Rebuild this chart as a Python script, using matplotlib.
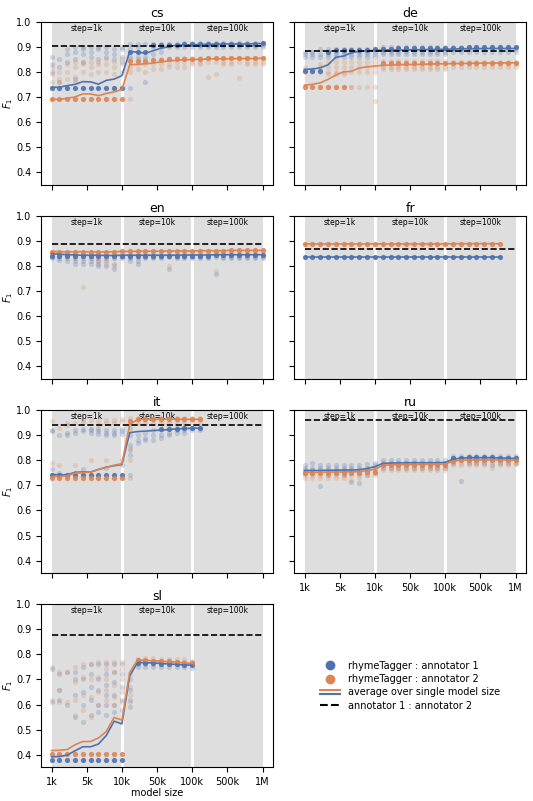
import numpy as np
import matplotlib
matplotlib.use("Agg")
from matplotlib import pyplot as plt
from matplotlib.lines import Line2D
from matplotlib.legend_handler import HandlerBase

C1 = '#4c72b0'  # rhymeTagger : annotator 1
C2 = '#dd8452'  # rhymeTagger : annotator 2

# model sizes: 1k..10k step 1k, 20k..100k step 10k, 200k..1M step 100k
sizes = [1000, 2000, 3000, 4000, 5000, 6000, 7000, 8000, 9000, 10000,
         20000, 30000, 40000, 50000, 60000, 70000, 80000, 90000, 100000,
         200000, 300000, 400000, 500000, 600000, 700000, 800000, 900000, 1000000]
tick_labels = ['1k', '5k', '10k', '50k', '100k', '500k', '1M']
step_labels = ['step=1k', 'step=10k', 'step=100k']
langs = ['cs', 'de', 'en', 'fr', 'it', 'ru', 'sl']

# annotator 1 : annotator 2 agreement
inter_annot = {'cs': 0.904, 'de': 0.884, 'en': 0.887, 'fr': 0.867,
               'it': 0.940, 'ru': 0.960, 'sl': 0.876}

# ---- cs ----
cs_mean_a1 = [0.738, 0.739, 0.745, 0.750, 0.761, 0.760, 0.751, 0.766, 0.771, 0.785,
              0.880, 0.879, 0.874, 0.884, 0.894, 0.900, 0.906, 0.907, 0.908,
              0.909, 0.910, 0.910, 0.911, 0.911, 0.911, 0.911, 0.912, 0.913]
cs_mean_a2 = [0.690, 0.690, 0.695, 0.700, 0.712, 0.712, 0.705, 0.714, 0.720, 0.730,
              0.828, 0.830, 0.832, 0.835, 0.840, 0.843, 0.846, 0.848, 0.849,
              0.850, 0.851, 0.852, 0.852, 0.852, 0.853, 0.853, 0.853, 0.854]
cs_bold_a1 = [0.737, 0.737, 0.737, 0.737, 0.737, 0.737, 0.737, 0.737, 0.737, 0.737,
              0.878, 0.878, 0.880, 0.905, 0.905, 0.908, 0.908, 0.910, 0.910,
              0.910, 0.912, 0.912, 0.912, 0.912, 0.912, 0.912, 0.912, 0.914]
cs_bold_a2 = [0.690, 0.690, 0.690, 0.690, 0.690, 0.690, 0.690, 0.690, 0.690, 0.690,
              0.845, 0.845, 0.845, 0.848, 0.848, 0.850, 0.850, 0.852, 0.852,
              0.853, 0.855, 0.855, 0.855, 0.855, 0.855, 0.855, 0.855, 0.855]
cs_faint_a1 = [[0.86, 0.83, 0.80], [0.85, 0.82, 0.76], [0.89, 0.87, 0.84], [0.90, 0.88, 0.85, 0.77],
               [0.90, 0.89, 0.87, 0.84], [0.90, 0.88, 0.86], [0.90, 0.89, 0.85], [0.90, 0.88, 0.86],
               [0.89, 0.87, 0.85], [0.90, 0.89, 0.86, 0.84],
               [0.91, 0.89, 0.86, 0.737], [0.91, 0.90, 0.86], [0.91, 0.86, 0.76], [0.91, 0.90, 0.87],
               [0.91, 0.90, 0.88], [0.91, 0.90], [0.91, 0.90], [0.915, 0.90], [0.915, 0.90],
               [0.915, 0.905, 0.90], [0.915, 0.905, 0.90], [0.915, 0.905, 0.90], [0.915, 0.905, 0.90],
               [0.915, 0.905, 0.90], [0.915, 0.905, 0.90], [0.915, 0.905, 0.90], [0.915, 0.905, 0.90],
               [0.915, 0.905, 0.90]]
cs_faint_a2 = [[0.82, 0.79, 0.76], [0.80, 0.77, 0.76], [0.83, 0.80, 0.77], [0.84, 0.82, 0.78, 0.76],
               [0.84, 0.83, 0.80], [0.84, 0.82, 0.79], [0.84, 0.83, 0.80], [0.85, 0.83, 0.80],
               [0.84, 0.82, 0.79], [0.85, 0.83, 0.80],
               [0.85, 0.82, 0.80, 0.69], [0.85, 0.83, 0.81], [0.85, 0.83, 0.80], [0.85, 0.83, 0.81],
               [0.85, 0.83, 0.81], [0.85, 0.83, 0.82], [0.855, 0.84, 0.82], [0.855, 0.84, 0.82],
               [0.855, 0.84, 0.83],
               [0.855, 0.84, 0.83], [0.855, 0.84, 0.78], [0.855, 0.84, 0.79], [0.855, 0.84, 0.83],
               [0.855, 0.84, 0.83], [0.855, 0.84, 0.775], [0.855, 0.84, 0.83], [0.855, 0.84, 0.83],
               [0.855, 0.84, 0.83]]

# ---- de ----
de_mean_a1 = [0.810, 0.811, 0.816, 0.828, 0.858, 0.863, 0.876, 0.882, 0.884, 0.885,
              0.887, 0.887, 0.887, 0.887, 0.888, 0.888, 0.889, 0.889, 0.890,
              0.891, 0.892, 0.892, 0.892, 0.893, 0.893, 0.893, 0.893, 0.893]
de_mean_a2 = [0.747, 0.750, 0.756, 0.770, 0.787, 0.800, 0.802, 0.815, 0.820, 0.823,
              0.826, 0.827, 0.828, 0.829, 0.829, 0.830, 0.831, 0.832, 0.832,
              0.833, 0.833, 0.834, 0.834, 0.835, 0.835, 0.835, 0.836, 0.836]
de_bold_a1 = [0.803, 0.803, 0.803, 0.880, 0.885, 0.885, 0.888, 0.888, 0.888, 0.890,
              0.892, 0.892, 0.893, 0.893, 0.893, 0.894, 0.894, 0.895, 0.895,
              0.896, 0.896, 0.897, 0.897, 0.897, 0.898, 0.898, 0.898, 0.898]
de_bold_a2 = [0.740, 0.740, 0.740, 0.740, 0.740, 0.740, None, None, None, None,
              0.835, 0.835, 0.836, 0.836, 0.836, 0.837, 0.837, 0.837, 0.837,
              0.836, 0.836, 0.836, 0.836, 0.836, 0.836, 0.836, 0.836, 0.836]
de_faint_a1 = [[0.87, 0.86, 0.88], [0.88, 0.87, 0.86], [0.89, 0.87, 0.86], [0.89, 0.88, 0.87, 0.86],
               [0.89, 0.88, 0.87, 0.86], [0.89, 0.88, 0.87, 0.86], [0.89, 0.88, 0.87, 0.86],
               [0.89, 0.88, 0.87, 0.86], [0.89, 0.88, 0.87, 0.86], [0.89, 0.88, 0.87, 0.86],
               [0.90, 0.89, 0.88, 0.87], [0.90, 0.89, 0.88, 0.87], [0.90, 0.89, 0.88, 0.87],
               [0.90, 0.89, 0.88, 0.87], [0.90, 0.89, 0.88, 0.87], [0.90, 0.89, 0.88, 0.87],
               [0.90, 0.89, 0.88, 0.87], [0.90, 0.89, 0.88, 0.87], [0.90, 0.89, 0.88, 0.87],
               [0.90, 0.89, 0.88], [0.90, 0.89, 0.88], [0.90, 0.89, 0.88], [0.90, 0.89, 0.88],
               [0.90, 0.89, 0.88], [0.90, 0.89, 0.88], [0.90, 0.89, 0.88], [0.90, 0.89, 0.88],
               [0.90, 0.89, 0.88]]
de_faint_a2 = [[0.80, 0.82], [0.80, 0.81], [0.80, 0.82, 0.83], [0.84, 0.82, 0.80, 0.79],
               [0.84, 0.82, 0.80, 0.79], [0.84, 0.82, 0.80, 0.79], [0.84, 0.82, 0.80, 0.74, 0.74],
               [0.84, 0.82, 0.80, 0.74], [0.84, 0.82, 0.80, 0.74], [0.84, 0.82, 0.80, 0.74, 0.685],
               [0.845, 0.83, 0.82, 0.81], [0.845, 0.83, 0.82, 0.81], [0.845, 0.83, 0.82, 0.81],
               [0.845, 0.83, 0.82, 0.81], [0.845, 0.83, 0.82, 0.81], [0.845, 0.83, 0.82, 0.81],
               [0.845, 0.83, 0.82, 0.81], [0.845, 0.83, 0.82, 0.81], [0.845, 0.83, 0.82, 0.81],
               [0.84, 0.83, 0.82], [0.84, 0.83, 0.82], [0.84, 0.83, 0.82], [0.84, 0.83, 0.82],
               [0.84, 0.83, 0.82], [0.84, 0.83, 0.82], [0.84, 0.83, 0.82], [0.84, 0.83, 0.82],
               [0.84, 0.83, 0.82]]

# ---- en ----
en_mean_a1 = [0.849, 0.847, 0.845, 0.844, 0.843, 0.843, 0.843, 0.842, 0.842, 0.843,
              0.843, 0.843, 0.843, 0.843, 0.843, 0.843, 0.843, 0.844, 0.844,
              0.844, 0.844, 0.845, 0.845, 0.845, 0.845, 0.845, 0.845, 0.845]
en_mean_a2 = [0.858, 0.857, 0.856, 0.857, 0.857, 0.856, 0.856, 0.856, 0.857, 0.858,
              0.858, 0.859, 0.859, 0.859, 0.859, 0.860, 0.860, 0.860, 0.860,
              0.861, 0.861, 0.861, 0.861, 0.862, 0.862, 0.862, 0.862, 0.862]
en_bold_a1 = [0.840, 0.840, 0.840, 0.840, 0.840, 0.840, 0.840, 0.840, 0.840, 0.840,
              0.840, 0.840, 0.840, 0.840, 0.840, 0.840, 0.840, 0.841, 0.841,
              0.841, 0.841, 0.842, 0.842, 0.842, 0.842, 0.842, 0.842, 0.842]
en_bold_a2 = [0.857, 0.857, 0.856, 0.857, 0.857, 0.856, 0.856, 0.856, 0.857, 0.858,
              0.858, 0.859, 0.859, 0.859, 0.859, 0.860, 0.860, 0.860, 0.860,
              0.861, 0.861, 0.861, 0.861, 0.862, 0.862, 0.862, 0.862, 0.862]
en_faint_a1 = [[0.835, 0.83], [0.83, 0.825], [0.83, 0.82], [0.83, 0.82, 0.81], [0.83, 0.82, 0.81],
               [0.83, 0.82, 0.81], [0.83, 0.82, 0.81, 0.80], [0.83, 0.82, 0.80], [0.83, 0.81, 0.79],
               [0.835, 0.83],
               [0.835, 0.83, 0.82], [0.835, 0.82, 0.81], [0.835, 0.83], [0.835, 0.83], [0.835, 0.83],
               [0.835, 0.79], [0.835, 0.83], [0.835, 0.83], [0.835, 0.83],
               [0.835, 0.83], [0.835, 0.83], [0.835, 0.77], [0.835, 0.83], [0.835, 0.83],
               [0.835, 0.83], [0.835, 0.83], [0.835, 0.83], [0.835, 0.83]]
en_faint_a2 = [[0.85, 0.845], [0.85, 0.84], [0.85, 0.84], [0.85, 0.84, 0.83], [0.85, 0.84, 0.715],
               [0.85, 0.84, 0.83], [0.85, 0.83, 0.82], [0.85, 0.83, 0.81], [0.85, 0.83, 0.80],
               [0.85, 0.84],
               [0.85, 0.84], [0.85, 0.84, 0.83], [0.85, 0.84], [0.85, 0.84], [0.85, 0.84],
               [0.85, 0.80], [0.85, 0.84], [0.85, 0.84], [0.85, 0.84],
               [0.855, 0.845], [0.855, 0.845], [0.855, 0.78], [0.855, 0.845], [0.855, 0.845],
               [0.855, 0.845], [0.855, 0.845], [0.855, 0.845], [0.855, 0.845]]

# ---- fr ----
fr_mean_a1 = [0.834, 0.834, 0.834, 0.834, 0.834, 0.834, 0.834, 0.834, 0.834, 0.834,
              0.834, 0.834, 0.834, 0.834, 0.834, 0.834, 0.834, 0.834, 0.834,
              0.834, 0.834, 0.834, 0.834, 0.834, 0.834, 0.834]
fr_mean_a2 = [0.888, 0.888, 0.888, 0.888, 0.888, 0.888, 0.888, 0.888, 0.888, 0.888,
              0.888, 0.888, 0.888, 0.888, 0.888, 0.888, 0.888, 0.888, 0.888,
              0.889, 0.889, 0.889, 0.889, 0.889, 0.889, 0.889]
fr_bold_a1 = fr_mean_a1
fr_bold_a2 = fr_mean_a2
fr_faint_a1 = []
fr_faint_a2 = []

# ---- it ----
it_mean_a1 = [0.743, 0.742, 0.742, 0.752, 0.753, 0.753, 0.763, 0.772, 0.778, 0.783,
              0.910, 0.914, 0.916, 0.918, 0.920, 0.922, 0.925, 0.926, 0.927, 0.928]
it_mean_a2 = [0.735, 0.735, 0.738, 0.749, 0.750, 0.753, 0.763, 0.772, 0.780, 0.786,
              0.943, 0.962, 0.963, 0.963, 0.963, 0.963, 0.963, 0.963, 0.963, 0.963]
it_bold_a1 = [0.743, 0.743, 0.743, 0.743, 0.743, 0.743, 0.743, 0.743, 0.743, 0.743,
              None, None, None, None, 0.925, 0.925, 0.926, 0.927, 0.928, 0.928]
it_bold_a2 = [0.730, 0.730, 0.730, 0.730, 0.730, 0.730, 0.730, 0.730, 0.730, 0.730,
              0.955, 0.963, 0.963, 0.963, 0.963, 0.963, 0.963, 0.963, 0.963, 0.963]
it_faint_a1 = [[0.92, 0.915, 0.765], [0.90, 0.75], [0.91, 0.90], [0.92, 0.91, 0.75],
               [0.925, 0.915, 0.765], [0.925, 0.92, 0.91], [0.925, 0.915, 0.905],
               [0.92, 0.91, 0.90, 0.77], [0.92, 0.91, 0.90], [0.925, 0.915, 0.905, 0.78],
               [0.93, 0.90, 0.86, 0.84, 0.82, 0.743], [0.90, 0.88, 0.87], [0.91, 0.89, 0.88],
               [0.92, 0.90, 0.88], [0.92, 0.90, 0.89], [0.93, 0.91, 0.90], [0.93, 0.92, 0.91],
               [0.93, 0.92, 0.91], [0.93, 0.92], [0.93, 0.92]]
it_faint_a2 = [[0.955, 0.79], [0.93, 0.78], [0.94, 0.95], [0.95, 0.78], [0.95, 0.96],
               [0.96, 0.80], [0.955, 0.94], [0.96, 0.95, 0.80], [0.96, 0.95], [0.965, 0.955, 0.80],
               [0.97, 0.95, 0.85, 0.80, 0.73], [0.97, 0.96, 0.95], [0.97, 0.96, 0.95],
               [0.97, 0.96, 0.95], [0.97, 0.96, 0.95], [0.97, 0.96, 0.95], [0.97, 0.96, 0.95],
               [0.97, 0.96, 0.95], [0.97, 0.96, 0.95], [0.97, 0.96, 0.95]]

# ---- ru ----
ru_mean_a1 = [0.759, 0.759, 0.759, 0.760, 0.760, 0.761, 0.761, 0.762, 0.767, 0.774,
              0.787, 0.789, 0.789, 0.790, 0.790, 0.790, 0.790, 0.790, 0.791,
              0.804, 0.808, 0.810, 0.810, 0.810, 0.810, 0.809, 0.808, 0.807]
ru_mean_a2 = [0.752, 0.752, 0.752, 0.753, 0.753, 0.753, 0.754, 0.754, 0.759, 0.764,
              0.779, 0.782, 0.783, 0.783, 0.783, 0.784, 0.784, 0.784, 0.785,
              0.796, 0.800, 0.801, 0.801, 0.801, 0.801, 0.801, 0.800, 0.800]
ru_bold_a1 = [None, None, None, None, None, None, None, None, None, None,
              None, None, None, None, None, None, None, None, None,
              0.808, 0.810, 0.812, 0.812, 0.812, 0.812, 0.810, 0.810, 0.810]
ru_bold_a2 = [0.750, 0.750, 0.750, 0.750, 0.750, 0.750, 0.750, 0.750, 0.752, 0.755,
              0.780, 0.780, 0.780, 0.780, 0.780, 0.781, 0.781, 0.781, 0.782,
              0.798, 0.800, 0.800, 0.800, 0.800, 0.800, 0.800, 0.800, 0.800]
ru_faint_a1 = [[0.78, 0.77, 0.76, 0.75], [0.79, 0.77, 0.76, 0.75], [0.78, 0.77, 0.76, 0.698],
               [0.78, 0.77, 0.76, 0.74], [0.78, 0.77, 0.76, 0.75], [0.78, 0.77, 0.76, 0.74],
               [0.78, 0.77, 0.76, 0.713], [0.78, 0.77, 0.76, 0.71], [0.785, 0.77, 0.76, 0.74],
               [0.79, 0.78, 0.77, 0.75],
               [0.80, 0.79, 0.78, 0.77], [0.80, 0.79, 0.78, 0.77], [0.80, 0.79, 0.78, 0.77],
               [0.80, 0.79, 0.78, 0.77], [0.80, 0.79, 0.78, 0.77], [0.80, 0.79, 0.78, 0.77],
               [0.80, 0.79, 0.78, 0.77], [0.80, 0.79, 0.78, 0.77], [0.80, 0.79, 0.78, 0.77],
               [0.815, 0.81, 0.80, 0.79], [0.815, 0.81, 0.80, 0.718], [0.815, 0.81, 0.80, 0.79],
               [0.815, 0.81, 0.80, 0.79], [0.815, 0.81, 0.80, 0.79], [0.815, 0.81, 0.80, 0.78],
               [0.815, 0.81, 0.80, 0.79], [0.815, 0.81, 0.80, 0.79], [0.815, 0.81, 0.80, 0.79]]
ru_faint_a2 = [[0.76, 0.75, 0.74, 0.73], [0.76, 0.75, 0.74, 0.73], [0.76, 0.75, 0.74, 0.73],
               [0.76, 0.75, 0.74, 0.73], [0.76, 0.75, 0.74, 0.73], [0.76, 0.75, 0.74, 0.73],
               [0.76, 0.75, 0.74, 0.72], [0.76, 0.75, 0.74, 0.73], [0.77, 0.76, 0.75, 0.74],
               [0.77, 0.76, 0.75, 0.74],
               [0.79, 0.78, 0.77, 0.76], [0.79, 0.78, 0.77, 0.76], [0.79, 0.78, 0.77, 0.76],
               [0.79, 0.78, 0.77, 0.76], [0.79, 0.78, 0.77, 0.76], [0.79, 0.78, 0.77, 0.76],
               [0.79, 0.78, 0.77, 0.76], [0.79, 0.78, 0.77, 0.76], [0.79, 0.78, 0.77, 0.76],
               [0.805, 0.80, 0.79, 0.78], [0.805, 0.80, 0.79, 0.78], [0.805, 0.80, 0.79, 0.78],
               [0.805, 0.80, 0.79, 0.78], [0.805, 0.80, 0.79, 0.78], [0.805, 0.80, 0.79, 0.77],
               [0.805, 0.80, 0.79, 0.78], [0.805, 0.80, 0.79, 0.78], [0.805, 0.80, 0.79, 0.785]]

# ---- sl ----
sl_mean_a1 = [0.392, 0.393, 0.399, 0.416, 0.432, 0.432, 0.443, 0.477, 0.534, 0.523,
              0.715, 0.768, 0.767, 0.766, 0.764, 0.762, 0.760, 0.758, 0.757]
sl_mean_a2 = [0.417, 0.418, 0.421, 0.440, 0.453, 0.453, 0.467, 0.493, 0.549, 0.538,
              0.728, 0.778, 0.776, 0.775, 0.773, 0.771, 0.769, 0.766, 0.764]
sl_bold_a1 = [0.378, 0.378, 0.378, 0.378, 0.378, 0.378, 0.378, 0.378, 0.378, 0.378,
              None, 0.765, 0.765, 0.764, 0.763, 0.762, 0.760, 0.758, 0.757]
sl_bold_a2 = [0.403, 0.403, 0.403, 0.403, 0.403, 0.403, 0.403, 0.403, 0.403, 0.403,
              None, 0.776, 0.776, 0.775, 0.774, 0.772, 0.770, 0.767, 0.765]
sl_faint_a1 = [[0.74, 0.61], [0.72, 0.66, 0.62], [0.73, 0.60], [0.73, 0.70, 0.64, 0.55],
               [0.75, 0.70, 0.65, 0.60, 0.53], [0.76, 0.72, 0.67, 0.62, 0.56],
               [0.76, 0.70, 0.66, 0.60, 0.57], [0.76, 0.72, 0.68, 0.64, 0.60, 0.56],
               [0.76, 0.73, 0.69, 0.64, 0.60, 0.57], [0.76, 0.72, 0.67, 0.62, 0.58],
               [0.70, 0.66, 0.62, 0.59], [0.77, 0.76, 0.75], [0.77, 0.76, 0.75], [0.77, 0.76, 0.75],
               [0.77, 0.76, 0.75], [0.77, 0.76, 0.75], [0.77, 0.76, 0.75], [0.77, 0.76, 0.75],
               [0.77, 0.76, 0.745]]
sl_faint_a2 = [[0.75, 0.62], [0.73, 0.66, 0.61], [0.73, 0.61], [0.75, 0.69, 0.62, 0.56],
               [0.76, 0.71, 0.64, 0.58], [0.76, 0.70, 0.63, 0.55], [0.77, 0.71, 0.65, 0.60],
               [0.77, 0.74, 0.70, 0.66, 0.62], [0.77, 0.73, 0.68, 0.63, 0.60],
               [0.77, 0.74, 0.70, 0.65, 0.61],
               [0.72, 0.67, 0.64, 0.61], [0.78, 0.77], [0.785, 0.77], [0.785, 0.77], [0.78, 0.77],
               [0.78, 0.77], [0.78, 0.77], [0.78, 0.765], [0.775, 0.765]]

data = {
    'cs': (cs_mean_a1, cs_mean_a2, cs_bold_a1, cs_bold_a2, cs_faint_a1, cs_faint_a2),
    'de': (de_mean_a1, de_mean_a2, de_bold_a1, de_bold_a2, de_faint_a1, de_faint_a2),
    'en': (en_mean_a1, en_mean_a2, en_bold_a1, en_bold_a2, en_faint_a1, en_faint_a2),
    'fr': (fr_mean_a1, fr_mean_a2, fr_bold_a1, fr_bold_a2, fr_faint_a1, fr_faint_a2),
    'it': (it_mean_a1, it_mean_a2, it_bold_a1, it_bold_a2, it_faint_a1, it_faint_a2),
    'ru': (ru_mean_a1, ru_mean_a2, ru_bold_a1, ru_bold_a2, ru_faint_a1, ru_faint_a2),
    'sl': (sl_mean_a1, sl_mean_a2, sl_bold_a1, sl_bold_a2, sl_faint_a1, sl_faint_a2),
}

# x axis is piecewise linear: one position per model size
pos = {s: i for i, s in enumerate(sizes)}
tick_pos = [0, 4.5, 9, 13.5, 18, 22.5, 27]


class HandlerDouble(HandlerBase):
    """two parallel lines (orange over blue) for the 'average' legend entry"""
    def create_artists(self, legend, orig_handle, xdescent, ydescent, width, height, fontsize, trans):
        y0 = height / 2 - ydescent
        x = [-xdescent, -xdescent + width]
        a = Line2D(x, [y0 + 1.3, y0 + 1.3], color=C2, lw=1.5, transform=trans)
        b = Line2D(x, [y0 - 1.3, y0 - 1.3], color=C1, lw=1.5, transform=trans)
        return [a, b]


def scatter_faint(ax, faint, color):
    xs, ys = [], []
    for i, vals in enumerate(faint):
        for v in vals:
            xs.append(pos[sizes[i]])
            ys.append(v)
    if xs:
        ax.scatter(xs, ys, s=14, color=color, alpha=0.24, linewidths=0, zorder=2)


def scatter_bold(ax, bold, color):
    xs = [pos[sizes[i]] for i, v in enumerate(bold) if v is not None]
    ys = [v for v in bold if v is not None]
    ax.scatter(xs, ys, s=14, color=color, alpha=0.9, linewidths=0, zorder=3)


plt.rcParams['font.size'] = 7
fig, axes = plt.subplots(4, 2, sharex=True, sharey=True, figsize=(5.33, 8.01), dpi=100)
fig.subplots_adjust(left=0.077, right=0.987, top=0.973, bottom=0.042, hspace=0.19, wspace=0.09)

for k, lang in enumerate(langs):
    ax = axes[k // 2][k % 2]
    mean_a1, mean_a2, bold_a1, bold_a2, faint_a1, faint_a2 = data[lang]

    # background sections
    for j in range(3):
        ax.axvspan(9 * j, 9 * (j + 1), color='#dedede', lw=0, zorder=0)
        ax.text(9 * j + 4.5, 0.973, step_labels[j], ha='center', va='center', fontsize=5.5, zorder=1)
    for xv in [9, 18]:
        ax.axvline(xv, color='white', lw=2, zorder=0.5)

    scatter_faint(ax, faint_a1, C1)
    scatter_faint(ax, faint_a2, C2)
    scatter_bold(ax, bold_a1, C1)
    scatter_bold(ax, bold_a2, C2)

    x1 = [pos[s] for s in sizes[:len(mean_a1)]]
    x2 = [pos[s] for s in sizes[:len(mean_a2)]]
    ax.plot(x1, mean_a1, color=C1, lw=1.2, zorder=4)
    ax.plot(x2, mean_a2, color=C2, lw=1.2, zorder=4)

    ax.hlines(inter_annot[lang], 0, 27, colors='black', linestyles='--', lw=1.2, zorder=5)

    ax.set_title(lang, fontsize=9, pad=3)
    if k % 2 == 0:
        ax.set_ylabel('$F_1$', labelpad=1)

axes[0][0].set_ylim(0.35, 1.0)
axes[0][0].set_yticks([0.4, 0.5, 0.6, 0.7, 0.8, 0.9, 1.0])
axes[0][0].set_xticks(tick_pos)
axes[0][0].set_xticklabels(tick_labels)
axes[2][1].tick_params(labelbottom=True)
axes[3][0].set_xlabel('model size', labelpad=1)

# legend in the empty slot
lax = axes[3][1]
lax.axis('off')
avg_handle = Line2D([], [], color=C1)
handles = [Line2D([], [], marker='o', ls='', color=C1, markersize=6),
           Line2D([], [], marker='o', ls='', color=C2, markersize=6),
           avg_handle,
           Line2D([], [], color='black', ls='--', lw=1.5)]
labels = ['rhymeTagger : annotator 1', 'rhymeTagger : annotator 2',
          'average over single model size', 'annotator 1 : annotator 2']
lax.legend(handles, labels, loc='center', frameon=False, fontsize=7, labelspacing=0.35,
           handler_map={avg_handle: HandlerDouble()})

fig.savefig('out.png', dpi=100)
